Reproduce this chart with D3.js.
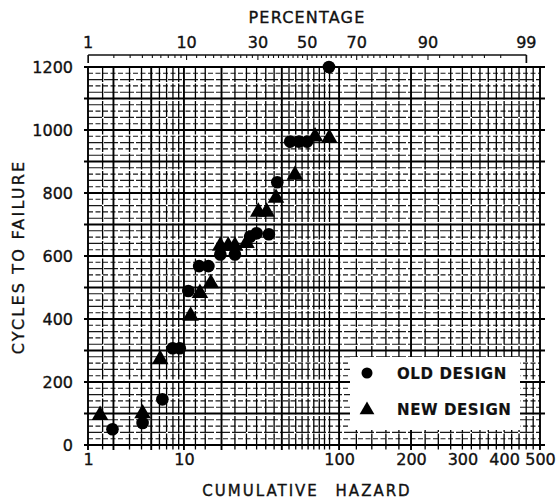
<!DOCTYPE html>
<html><head><meta charset="utf-8">
<script src="https://cdn.jsdelivr.net/npm/d3@7"></script>
<style>
body{margin:0;background:#fff;}
text{font-family:"DejaVu Sans","Liberation Sans",sans-serif;fill:#111;stroke:#111;stroke-width:0.35px;}
</style></head>
<body>
<svg id="c" width="557" height="502"></svg>
<script>
// ---- data ----
const oldHazard = [1.95, 4.1, 6.4, 7.95, 9.2, 10.9, 13.4, 15.9, 19.6, 25, 31.7, 35, 41.8, 47, 55.8, 62.5, 69.1, 89.4];
const oldCycles = [50, 70, 145, 307, 307, 489, 568, 568, 605, 605, 661, 672, 669, 834, 963, 963, 963, 1200];
const newHazard = [1.4, 4.1, 6.1, 11.4, 13.6, 16.6, 19.6, 22.4, 25, 30, 35.9, 40.5, 46.2, 59.4, 76.1, 89.8];
const newCycles = [95, 100, 272, 410, 482, 513, 632, 632, 632, 641, 740, 740, 784, 857, 979, 974];
const hazardLabels = [1, 10, 100, 200, 300, 400, 500];
const hazardGrid = [1, 1.5, 2, 3, 4, 5, 6, 7, 8, 9, 10, 12.5, 15, 20, 25, 30, 35, 40, 45, 50, 55, 60, 65, 70, 75, 80, 85, 90, 100,
  120, 140, 160, 180, 200, 225, 250, 275, 300, 320, 340, 360, 380, 400, 420, 440, 460, 480, 500];
const hazardHeavy = [1, 2, 5, 10, 20, 50, 100, 200, 500];
const percentLabels = [1, 10, 30, 50, 70, 90, 99];
const percentTicks = [1, 2, 3, 4, 5, 6, 7, 8, 9, 10, 12, 14, 16, 18, 20, 22, 24, 26, 28, 30, 32, 34, 36, 38, 40, 42, 44, 46, 48, 50,
  52, 54, 56, 58, 60, 62, 64, 66, 68, 70, 72, 74, 76, 78, 80, 82, 84, 86, 88, 90, 92, 94, 95, 96, 97, 98, 99];
const cycleLabels = [0, 200, 400, 600, 800, 1000, 1200];
const legendItems = ["OLD DESIGN", "NEW DESIGN"];

// inverse normal CDF (Acklam) for the normal hazard-paper transform
function probit(p){
  const a=[-39.69683028665376,220.9460984245205,-275.9285104469687,138.3577518672690,-30.66479806614716,2.506628277459239];
  const b=[-54.47609879822406,161.5858368580409,-155.6989798598866,66.80131188771972,-13.28068155288572];
  const c=[-0.007784894002430293,-0.3223964580411365,-2.400758277161838,-2.549732539343734,4.374664141464968,2.938163982698783];
  const d=[0.007784695709041462,0.3224671290700398,2.445134137142996,3.754408661907416];
  const pl=0.02425, ph=1-pl; let q,r;
  if(p<pl){q=Math.sqrt(-2*Math.log(p));return (((((c[0]*q+c[1])*q+c[2])*q+c[3])*q+c[4])*q+c[5])/((((d[0]*q+d[1])*q+d[2])*q+d[3])*q+1);}
  if(p<=ph){q=p-0.5;r=q*q;return (((((a[0]*r+a[1])*r+a[2])*r+a[3])*r+a[4])*r+a[5])*q/(((((b[0]*r+b[1])*r+b[2])*r+b[3])*r+b[4])*r+1);}
  q=Math.sqrt(-2*Math.log(1-p));return -(((((c[0]*q+c[1])*q+c[2])*q+c[3])*q+c[4])*q+c[5])/((((d[0]*q+d[1])*q+d[2])*q+d[3])*q+1);
}
const zH = h => probit(1 - Math.exp(-h/100));
const zP = pc => probit(pc/100);

const L=88, R=540, T=67, B=445;
const zs = d3.scaleLinear().domain([zH(1), zH(500)]).range([L, R]);
const xH = h => zs(zH(h));
const xP = pc => zs(zP(pc));
const y = d3.scaleLinear().domain([0, 1200]).range([B, T]);

const svg = d3.select("#c");

// horizontal grid every 20
const yGrid = d3.range(0, 1201, 20);
svg.append("g").selectAll("line").data(yGrid).join("line")
  .attr("x1", d => d%100===0 ? L-4 : L).attr("x2", d => d%100===0 ? R+5 : R)
  .attr("y1", d => y(d)).attr("y2", d => y(d))
  .attr("stroke", "#000")
  .attr("stroke-width", d => d%100===0 ? 1.9 : 1.1)
  .attr("stroke-dasharray", d => d%100===0 ? null : (d%40===0 ? "14,2" : "5,2.5"))
  .attr("opacity", d => d%100===0 ? 1 : 0.9);

// vertical grid
svg.append("g").selectAll("line").data(hazardGrid).join("line")
  .attr("x1", d => xH(d)).attr("x2", d => xH(d))
  .attr("y1", T - 1).attr("y2", B + 5)
  .attr("stroke", "#000")
  .attr("stroke-width", d => hazardHeavy.includes(d) ? 1.9 : 1.3)
  .attr("stroke-dasharray", d => hazardHeavy.includes(d) ? null : "16,1.5");

// bottom axis labels
const bottomAxis = d3.axisBottom(zs).tickValues(hazardLabels.map(zH)).tickFormat((d,i)=>hazardLabels[i]).tickSize(0).tickPadding(9);
const gb = svg.append("g").attr("transform", `translate(0,${B})`).call(bottomAxis);
gb.select(".domain").remove();
gb.selectAll("text").attr("font-size", 16).attr("font-family", "DejaVu Sans").attr("fill", "#111");

// left axis labels
const leftAxis = d3.axisLeft(y).tickValues(cycleLabels).tickFormat(d3.format("d")).tickSize(0).tickPadding(15);
const gl = svg.append("g").attr("transform", `translate(${L},0)`).call(leftAxis);
gl.select(".domain").remove();
gl.selectAll("text").attr("font-size", 16).attr("font-family", "DejaVu Sans").attr("fill", "#111");

// top percentage axis
const topY = 55;
const gt = svg.append("g");
gt.append("line").attr("x1", xP(1)).attr("x2", xP(99)).attr("y1", topY).attr("y2", topY).attr("stroke", "#111").attr("stroke-width", 1.7);
gt.selectAll("line.t").data(percentTicks).join("line").attr("class","t")
  .attr("x1", d => xP(d)).attr("x2", d => xP(d))
  .attr("y1", topY).attr("y2", d => (d===1||d===99) ? topY+8 : (percentLabels.includes(d) ? topY+5 : topY+3))
  .attr("stroke", "#111").attr("stroke-width", d => (d===1||d===99) ? 1.7 : 1.1);
gt.selectAll("text").data(percentLabels).join("text")
  .attr("x", d => xP(d)).attr("y", 48).attr("text-anchor", "middle")
  .attr("font-size", 16).text(d => d);

// titles
svg.append("text").attr("x", 307).attr("y", 23).attr("text-anchor","middle").attr("font-size",16).attr("letter-spacing",1.2).text("PERCENTAGE");
svg.append("text").attr("x", 307).attr("y", 496).attr("text-anchor","middle").attr("font-size",15).attr("letter-spacing",2).attr("word-spacing",10).text("CUMULATIVE HAZARD");
svg.append("text").attr("transform","translate(24,257) rotate(-90)").attr("text-anchor","middle").attr("font-size",16).attr("letter-spacing",2.2).text("CYCLES TO FAILURE");

// legend box (white, covering grid)
svg.append("rect").attr("x", 350).attr("y", 357).attr("width", 170).attr("height", 73).attr("fill", "#fff");

// markers
const tri = d3.symbol().type(d3.symbolTriangle).size(120);
svg.append("g").selectAll("path").data(newHazard.map((h,i)=>[h,newCycles[i]])).join("path")
  .attr("d", tri).attr("transform", d => `translate(${xH(d[0])},${y(d[1])})`).attr("fill", "#000");
svg.append("g").selectAll("circle").data(oldHazard.map((h,i)=>[h,oldCycles[i]])).join("circle")
  .attr("cx", d => xH(d[0])).attr("cy", d => y(d[1])).attr("r", 6.3).attr("fill", "#000");

// legend
const lg = svg.append("g");
lg.append("circle").attr("cx", 367).attr("cy", 373).attr("r", 5.5).attr("fill", "#000");
lg.append("path").attr("d", d3.symbol().type(d3.symbolTriangle).size(95)).attr("transform","translate(367,410)").attr("fill","#000");
lg.selectAll("text").data(legendItems).join("text")
  .attr("x", 397).attr("y", (d,i) => 379 + i*36).attr("font-size", 15).attr("font-weight","bold").attr("letter-spacing",0.6).style("stroke-width","0.2px").text(d=>d);
</script>
</body></html>
